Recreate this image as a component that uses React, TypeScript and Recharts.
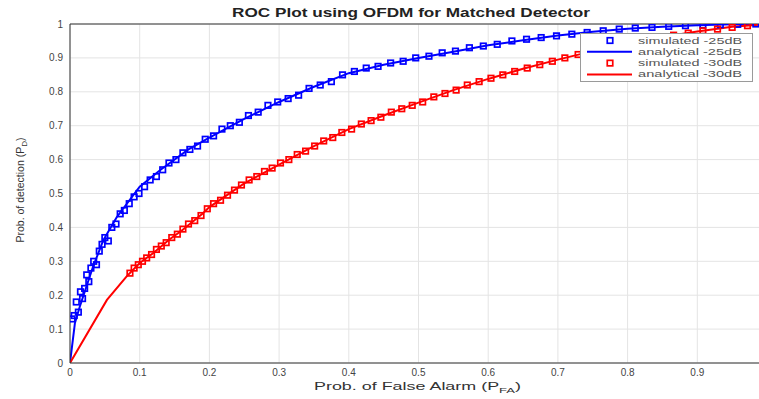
import { ComposedChart, Line, XAxis, YAxis, CartesianGrid, ReferenceLine } from "recharts";

// analytical curves
const blueLineX = [0, 0.007, 0.014, 0.033, 0.048, 0.067, 0.1, 0.13, 0.17, 0.2, 0.25, 0.3, 0.35, 0.4, 0.45, 0.5, 0.55, 0.6, 0.65, 0.7, 0.75, 0.8, 0.85, 0.9, 0.95, 1];
const blueLineY = [0, 0.117, 0.166, 0.284, 0.363, 0.43, 0.52, 0.57, 0.63, 0.665, 0.72, 0.77, 0.815, 0.855, 0.88, 0.9, 0.918, 0.937, 0.952, 0.966, 0.977, 0.986, 0.992, 0.996, 0.999, 1];

const redLineX = [0, 0.053, 0.081, 0.1, 0.12, 0.143, 0.16, 0.19, 0.2, 0.25, 0.3, 0.35, 0.4, 0.45, 0.5, 0.55, 0.6, 0.65, 0.7, 0.75, 0.8, 0.85, 0.9, 0.95, 1];
const redLineY = [0, 0.186, 0.255, 0.295, 0.325, 0.365, 0.39, 0.44, 0.46, 0.53, 0.585, 0.64, 0.69, 0.73, 0.768, 0.805, 0.838, 0.868, 0.895, 0.92, 0.943, 0.962, 0.978, 0.992, 1];

// simulated points
const blueSimX = [0.003, 0.006, 0.009, 0.012, 0.015, 0.018, 0.021, 0.024, 0.027, 0.03, 0.034, 0.038, 0.042, 0.046, 0.05, 0.055, 0.06, 0.066, 0.072, 0.078, 0.085, 0.092, 0.099, 0.107, 0.115, 0.124, 0.133, 0.142, 0.152, 0.162, 0.172, 0.183, 0.194, 0.206, 0.218, 0.23, 0.243, 0.256, 0.27, 0.284, 0.298, 0.313, 0.328, 0.343, 0.359, 0.375, 0.391, 0.408, 0.425, 0.442, 0.46, 0.478, 0.496, 0.515, 0.534, 0.553, 0.573, 0.593, 0.613, 0.634, 0.655, 0.676, 0.698, 0.72, 0.742, 0.765, 0.788, 0.811, 0.835, 0.859, 0.883, 0.908, 0.933, 0.958, 0.984];
const blueSimY = [0.13, 0.14, 0.18, 0.15, 0.21, 0.19, 0.22, 0.26, 0.24, 0.28, 0.3, 0.29, 0.33, 0.35, 0.37, 0.36, 0.4, 0.41, 0.44, 0.45, 0.47, 0.49, 0.5, 0.52, 0.54, 0.55, 0.57, 0.59, 0.6, 0.62, 0.63, 0.64, 0.66, 0.67, 0.69, 0.7, 0.71, 0.73, 0.74, 0.76, 0.77, 0.78, 0.79, 0.81, 0.82, 0.83, 0.85, 0.86, 0.87, 0.875, 0.885, 0.89, 0.9, 0.905, 0.915, 0.92, 0.93, 0.935, 0.94, 0.95, 0.955, 0.96, 0.965, 0.97, 0.975, 0.98, 0.985, 0.988, 0.99, 0.993, 0.995, 0.997, 0.998, 0.999, 1];

const redSimX = [0.086, 0.092, 0.098, 0.104, 0.11, 0.117, 0.124, 0.131, 0.138, 0.146, 0.154, 0.162, 0.17, 0.179, 0.188, 0.197, 0.206, 0.216, 0.226, 0.236, 0.246, 0.257, 0.268, 0.279, 0.29, 0.302, 0.314, 0.326, 0.338, 0.351, 0.364, 0.377, 0.39, 0.404, 0.418, 0.432, 0.446, 0.461, 0.476, 0.491, 0.506, 0.522, 0.538, 0.554, 0.57, 0.587, 0.604, 0.621, 0.638, 0.656, 0.674, 0.692, 0.71, 0.729, 0.748, 0.767, 0.786, 0.806, 0.826, 0.846, 0.866, 0.887, 0.908, 0.929, 0.95, 0.972, 0.994];
const redSimY = [0.265, 0.28, 0.29, 0.3, 0.31, 0.32, 0.335, 0.345, 0.355, 0.37, 0.38, 0.395, 0.41, 0.42, 0.435, 0.455, 0.47, 0.48, 0.495, 0.51, 0.525, 0.54, 0.55, 0.565, 0.575, 0.59, 0.6, 0.615, 0.625, 0.64, 0.655, 0.665, 0.68, 0.69, 0.705, 0.715, 0.725, 0.74, 0.75, 0.76, 0.77, 0.785, 0.795, 0.805, 0.82, 0.83, 0.84, 0.85, 0.86, 0.87, 0.88, 0.89, 0.9, 0.91, 0.92, 0.928, 0.936, 0.945, 0.952, 0.96, 0.967, 0.973, 0.98, 0.985, 0.99, 0.995, 0.999];

const xTicks = [0, 0.1, 0.2, 0.3, 0.4, 0.5, 0.6, 0.7, 0.8, 0.9];
const yTicks = [0, 0.1, 0.2, 0.3, 0.4, 0.5, 0.6, 0.7, 0.8, 0.9, 1];

const legendItems = [
  { name: "simulated -25dB", color: "#0000ff", kind: "marker" },
  { name: "analytical -25dB", color: "#0000ff", kind: "line" },
  { name: "simulated -30dB", color: "#ff0000", kind: "marker" },
  { name: "analytical -30dB", color: "#ff0000", kind: "line" },
];

const zip = (xs: number[], ys: number[]) => xs.map((x, i) => ({ x, y: ys[i] }));

const FONT = "'Liberation Sans', Arial, Helvetica, sans-serif";

const squareDot = (color: string) => (props: any) => {
  const { cx, cy, index } = props;
  if (cx == null || cy == null) return <g key={`d-${index}`} />;
  return (
    <rect key={`d-${index}`} x={cx - 2.75} y={cy - 2.75} width={5.5} height={5.5}
      fill="none" stroke={color} strokeWidth={1.7} />
  );
};

function LegendBox() {
  return (
    <svg width={173} height={49} style={{ display: "block" }}>
      <rect x={0.5} y={0.5} width={172} height={48} fill="#fff" stroke="#9a9a9a" />
      {legendItems.map((it, i) => {
        const cy = 7.5 + i * 11.3;
        return (
          <g key={it.name}>
            {it.kind === "line" ? (
              <line x1={7} x2={52} y1={cy} y2={cy} stroke={it.color} strokeWidth={2} />
            ) : (
              <rect x={27.25} y={cy - 2.75} width={5.5} height={5.5} fill="none" stroke={it.color} strokeWidth={1.7} />
            )}
            <text x={58} y={cy + 3} fontSize={9} fill="#555" fontFamily={FONT}
              textLength={104} lengthAdjust="spacingAndGlyphs">{it.name}</text>
          </g>
        );
      })}
    </svg>
  );
}

export default function App() {
  const blueLine = zip(blueLineX, blueLineY);
  const redLine = zip(redLineX, redLineY);
  const blueSim = zip(blueSimX, blueSimY);
  const redSim = zip(redSimX, redSimY);

  return (
    <div style={{ position: "fixed", left: 0, top: 0, width: 759, height: 399, overflow: "hidden", background: "#fff" }}>
      <div style={{ position: "absolute", left: 0, top: 0 }}>
        <ComposedChart width={800} height={399} margin={{ top: 24, right: 33, left: 0, bottom: 0 }}>
          <CartesianGrid stroke="#e4e4e4" strokeWidth={1} horizontalValues={yTicks} verticalValues={xTicks} />
          <XAxis dataKey="x" type="number" domain={[0, 1]} ticks={xTicks} allowDataOverflow
            height={36} tickSize={0} tickMargin={6} stroke="#333"
            tick={{ fontSize: 10, fill: "#444", fontFamily: FONT }}
            tickFormatter={(v: number) => String(v)}
            label={({ viewBox }: any) => (
              <text x={viewBox.x + viewBox.width / 2 - 1} y={viewBox.y + 27} textAnchor="middle"
                fontSize={11} fill="#333" fontFamily={FONT} textLength={207} lengthAdjust="spacingAndGlyphs">
                Prob. of False Alarm (P<tspan dy={3} fontSize={8}>FA</tspan><tspan dy={-3}>)</tspan>
              </text>
            )} />
          <YAxis type="number" domain={[0, 1]} ticks={yTicks} allowDataOverflow
            width={70} tickSize={0} tickMargin={7} stroke="#333"
            tick={{ fontSize: 10, fill: "#444", fontFamily: FONT }}
            tickFormatter={(v: number) => String(v)}
            label={() => (
              <text x={0} y={0} transform={`translate(24, 190) rotate(-90)`} textAnchor="middle"
                fontSize={10.5} fill="#333" fontFamily={FONT}>
                Prob. of detection (P<tspan dy={3} fontSize={8}>D</tspan><tspan dy={-3}>)</tspan>
              </text>
            )} />
          <ReferenceLine y={1} stroke="#333" strokeWidth={1} ifOverflow="visible" />
          <ReferenceLine x={1} stroke="#333" strokeWidth={1} ifOverflow="visible" />
          <Line data={blueLine} dataKey="y" type="linear" stroke="#0000ff" strokeWidth={2}
            dot={false} activeDot={false} isAnimationActive={false} />
          <Line data={redLine} dataKey="y" type="linear" stroke="#ff0000" strokeWidth={2}
            dot={false} activeDot={false} isAnimationActive={false} />
          <Line data={blueSim} dataKey="y" type="linear" stroke="none" strokeWidth={0}
            dot={squareDot("#0000ff")} activeDot={false} isAnimationActive={false} />
          <Line data={redSim} dataKey="y" type="linear" stroke="none" strokeWidth={0}
            dot={squareDot("#ff0000")} activeDot={false} isAnimationActive={false} />
        </ComposedChart>
      </div>
      <svg width={759} height={30} style={{ position: "absolute", left: 0, top: 0 }}>
        <text x={411} y={17} textAnchor="middle" fontSize={12.5} fontWeight="bold" fill="#222"
          fontFamily={FONT} textLength={358} lengthAdjust="spacingAndGlyphs">
          ROC Plot using OFDM for Matched Detector
        </text>
      </svg>
      <div style={{ position: "absolute", left: 580, top: 33 }}>
        <LegendBox />
      </div>
    </div>
  );
}
